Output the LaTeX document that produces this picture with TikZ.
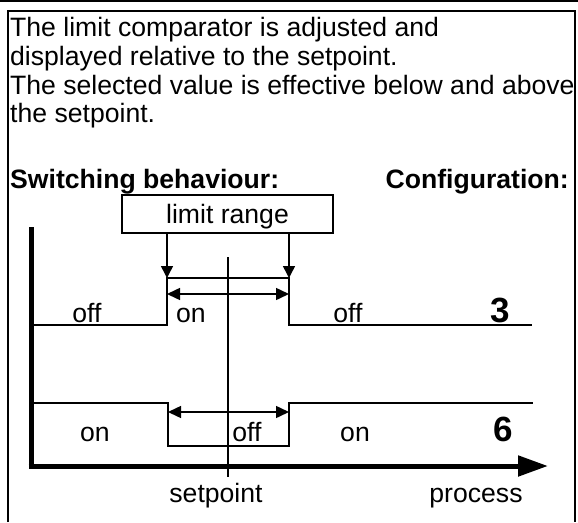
\documentclass[tikz,border=0pt]{standalone}
\usepackage{fontspec}
\setmainfont{Liberation Sans}
\usetikzlibrary{arrows.meta}

\begin{document}
\begin{tikzpicture}[x = 1pt, y = -1pt,
    every node/.style = {font = \fontsize{26.6}{29}\selectfont, inner sep = 0pt},
    big/.style = {font = \fontsize{35}{35}\selectfont\bfseries},
    signal/.style = {line width = 2pt},
    tip/.style = {-{Triangle[length = 12pt, width = 12pt]}},
    span/.style = {{Triangle[length = 13pt, width = 12pt]}-{Triangle[length = 13pt, width = 12pt]}, line width = 1.5pt}]
    \useasboundingbox (0,0) rectangle (578,522);
    \draw[line width = 2.5pt] (0,1) -- (578,1);
    \draw[line width = 2pt] (8,522) -- (8,11) -- (575,11) -- (575,522);

    \node[anchor = base west] (line1) at (10,36) {The limit comparator is adjusted and};
    \node[anchor = base west] (line2) at (10,65) {displayed relative to the setpoint.};
    \node[anchor = base west] (line3) at (10,94) {The selected value is effective below and above};
    \node[anchor = base west] (line4) at (10,122) {the setpoint.};
    \node[anchor = base west, font = \fontsize{26.6}{29}\selectfont\bfseries] (switch) at (10,188) {Switching behaviour:};
    \node[anchor = base east, font = \fontsize{26.6}{29}\selectfont\bfseries] (config) at (569,188) {Configuration:};

    \node[draw, line width = 2pt, minimum width = 211pt, minimum height = 38pt,
        text height = 19pt, text depth = 0pt] (range) at (227.5,214) {limit range};

    \coordinate (lo3) at (167,278);
    \coordinate (hi3) at (289,278);
    \coordinate (lo6) at (168,446);
    \coordinate (hi6) at (289,446);
    \coordinate (sptop) at (228,257);
    \coordinate (spbot) at (228,477);

    \draw[line width = 1.5pt] (sptop) -- (spbot);
    \draw[tip, line width = 1.5pt] (range.south -| lo3) -- (lo3);
    \draw[tip, line width = 1.5pt] (range.south -| hi3) -- (hi3);

    % configuration 3
    \draw[signal] (31,325) -- (lo3 |- 0,325) -- (lo3) -- (hi3) -- (hi3 |- 0,325) -- (532,325);
    \draw[span] (lo3 |- 0,294) -- (hi3 |- 0,294);
    \node[anchor = base] (off3a) at (87,322) {off};
    \node[anchor = base] (on3) at (191,322) {on};
    \node[anchor = base] (off3b) at (348,322) {off};
    \node[anchor = base, big] (conf3) at (500,322) {3};

    % configuration 6
    \draw[signal] (31,403) -- (lo6 |- 0,403) -- (lo6) -- (hi6) -- (hi6 |- 0,403) -- (533,403);
    \draw[span] (lo6 |- 0,412) -- (hi6 |- 0,412);
    \node[anchor = base] (on6a) at (95,441) {on};
    \node[anchor = base] (off6) at (247,441) {off};
    \node[anchor = base] (on6b) at (355,441) {on};
    \node[anchor = base, big] (conf6) at (503,441) {6};

    % axes
    \draw[line width = 5pt] (31,227) -- (31,468.5);
    \draw[line width = 5pt, -{Triangle[length = 30pt, width = 20pt]}] (28.5,466) -- (548,466);
    \node[anchor = base] (setpoint) at (216,502) {setpoint};
    \node[anchor = base] (process) at (476,502) {process};
\end{tikzpicture}
\end{document}
